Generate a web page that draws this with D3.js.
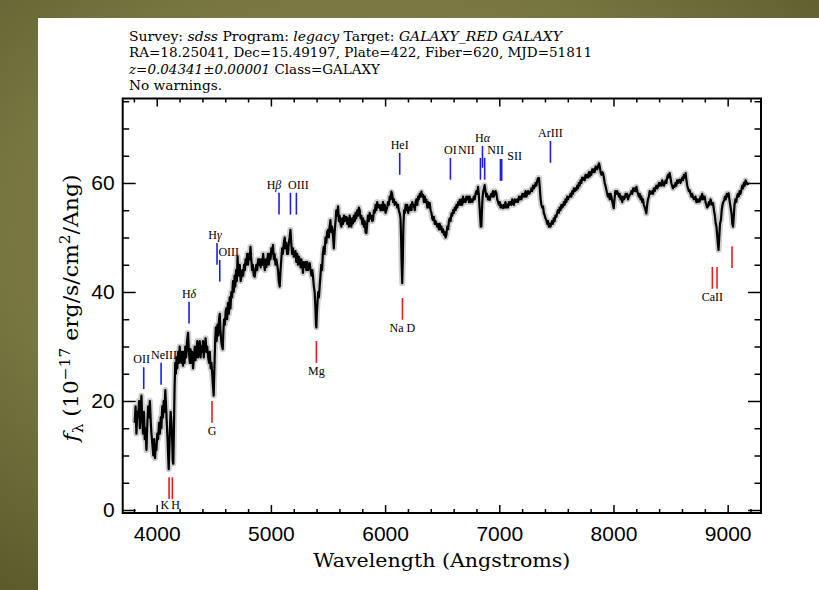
<!DOCTYPE html>
<html><head><meta charset="utf-8">
<script src="https://cdn.jsdelivr.net/npm/d3@7/dist/d3.min.js"></script>
<style>body{margin:0;background:#fff}svg{display:block}</style>
</head><body><div id="chart"></div>
<script>
// ---------------- DATA ----------------
const xTicksMajor = [4000, 5000, 6000, 7000, 8000, 9000];
const yTicksMajor = [0, 20, 40, 60];
const xDomain = [3702, 9292];
const yDomain = [-0.55, 75.5];

// observed spectrum [wavelength (A), flux (1e-17 erg/s/cm2/A)]
const spectrum = [
[3807,16],[3815,19],[3822,14],[3830,18],[3838,17],[3845,20],[3852,15],[3860,19],[3866,21],[3872,17],
[3880,14],[3888,18],[3895,13],[3902,15],[3910,11],[3918,16],[3925,19],[3932,17],[3940,20],[3948,16],
[3954,14],[3962,12],[3970,10],[3978,13],[3985,9.5],[3992,12],[3997,11],[4005,14],[4012,13],[4020,16],
[4028,14],[4035,17],[4041,15],[4048,19],[4055,17],[4061,20],[4068,18],[4075,22],[4082,19],[4088,16],
[4095,13],[4100,10],[4105,7.5],[4110,11],[4116,15],[4122,18],[4129,16],[4135,13],[4140,9],[4145,8.5],
[4150,14],[4156,22],[4162,27],[4168,25],[4173,28],[4180,26],[4187,29],[4194,27],[4201,30],[4208,28],
[4215,27],[4222,29],[4230,26.5],[4237,29],[4244,27],[4250,30],[4258,28],[4266,31],[4274,32.5],[4282,29],
[4290,27],[4296,29.5],[4303,27],[4310,29],[4318,26],[4326,28],[4333,30],[4340,27.5],[4348,29],[4355,31],
[4362,28],[4370,30],[4377,31],[4384,28],[4391,30],[4398,29],[4405,31],[4412,28],[4420,30],[4428,31.5],
[4435,29],[4442,30],[4450,28],[4458,27],[4465,29],[4472,26],[4479,27],[4486,25],[4492,23],[4499,21],
[4505,26],[4512,31],[4518,33.5],[4525,31],[4532,34],[4539,32],[4546,35],[4552,36],[4558,33],[4565,31],
[4572,30],[4578,29.5],[4584,33],[4590,35],[4597,34],[4604,36.5],[4610,37],[4617,35],[4624,38],[4632,36],
[4639,39],[4646,37],[4653,40],[4660,39],[4668,42],[4675,40],[4682,43],[4688,41],[4695,44],[4702,42],
[4708,46.5],[4714,44],[4720,43],[4727,45],[4735,42],[4742,42.8],[4750,44],[4757,43],[4765,45],[4772,44],
[4778,46],[4785,45],[4792,47],[4800,45],[4807,47],[4814,46],[4821,48.3],[4828,46],[4835,44],[4842,45],
[4850,43],[4858,42.8],[4865,44],[4872,45],[4880,44],[4888,46],[4895,45],[4902,46],[4910,44.5],[4918,46],
[4925,45],[4932,47],[4940,45],[4947,44],[4954,46],[4961,44.6],[4968,46],[4975,47],[4982,45],[4990,47],
[4997,46],[5004,48],[5011,47],[5018,48.6],[5025,46],[5032,47],[5040,45],[5048,46],[5055,45],[5062,44],
[5069,42],[5077,41],[5084,44],[5091,46],[5098,48],[5105,47],[5113,49],[5121,50],[5128,48],[5135,49],
[5142,47],[5150,47],[5157,49],[5164,50],[5171,51.4],[5178,49],[5185,47],[5193,48],[5200,46.5],[5208,46.5],
[5215,47.5],[5222,45.5],[5230,47],[5237,45],[5245,46.5],[5252,45.9],[5260,44.5],[5267,46],[5274,45],[5281,43.5],
[5288,45.5],[5296,44.6],[5303,45.5],[5310,44],[5318,45.5],[5325,44],[5332,45],[5340,45.3],[5347,44],[5355,43],
[5362,44],[5369,42.8],[5376,41],[5383,40],[5390,37],[5395,34],[5398,33.5],[5402,36],[5408,38],[5414,40],
[5420,39],[5427,41],[5434,43],[5441,45],[5448,44],[5455,47],[5462,48.3],[5470,47],[5478,50],[5485,49],
[5492,51],[5500,51.4],[5507,50],[5514,52],[5521,53.2],[5528,51],[5536,52],[5544,50.1],[5551,48],[5558,51],
[5566,53],[5573,55],[5580,54],[5588,55.7],[5595,53],[5602,54],[5610,52.5],[5617,52],[5625,53.5],[5632,52.5],
[5640,54],[5647,53],[5654,53.8],[5661,53.8],[5668,52.5],[5676,53.5],[5683,52],[5690,54],[5697,53],[5704,52],
[5712,53.5],[5719,52.6],[5726,54],[5734,53],[5741,54.5],[5748,53.5],[5756,55],[5763,54],[5770,55.5],[5778,55],
[5785,53.5],[5792,54],[5800,52.5],[5807,53.5],[5814,52],[5821,53],[5829,51],[5836,50.8],[5843,52.5],[5850,54],
[5858,53],[5865,54.5],[5872,53.5],[5880,54],[5887,53],[5894,53.2],[5902,55],[5909,54.5],[5916,56],[5924,55],
[5931,56.5],[5938,55.5],[5945,56],[5953,55.7],[5960,55],[5967,56],[5975,55],[5982,56.5],[5990,55],[5997,56],
[6004,54.5],[6011,55],[6018,55.5],[6025,56.5],[6033,56],[6040,57.5],[6047,57],[6055,58.4],[6062,58],[6070,56.5],
[6077,57],[6084,56],[6091,56.5],[6099,56.3],[6106,55.5],[6113,56],[6120,55],[6128,54.4],[6135,53.5],[6140,50],
[6145,45],[6150,41.6],[6155,46],[6160,52],[6166,55],[6173,54.5],[6180,56],[6187,55],[6194,56],[6202,54.5],
[6209,55.5],[6216,55],[6224,56],[6231,55],[6238,56.5],[6245,55.7],[6252,56],[6260,55],[6267,56.5],[6274,57],
[6282,56],[6289,57.5],[6296,57],[6303,58],[6311,57.5],[6318,58.4],[6325,57.5],[6333,57.8],[6340,56.5],[6348,57.5],
[6355,56.5],[6362,56.9],[6370,55.5],[6377,56.5],[6384,55.5],[6391,56.3],[6398,55],[6406,54.5],[6413,53.5],[6420,53.2],
[6427,53.8],[6435,52.5],[6442,53],[6449,52.5],[6456,52],[6464,52.5],[6471,51.5],[6478,52.5],[6486,51.5],[6493,52],
[6500,51],[6508,51.5],[6515,50.5],[6522,51],[6530,50],[6537,50.5],[6544,52],[6552,51.5],[6559,53],[6566,53.5],
[6574,53],[6581,54.4],[6588,54],[6596,55],[6603,54.5],[6610,55.5],[6618,55],[6625,56],[6632,55.5],[6640,56.5],
[6647,56],[6653,56.9],[6661,56],[6668,57],[6675,56],[6683,57.5],[6690,56.5],[6697,57],[6705,56.5],[6712,57.5],
[6720,57],[6727,57.5],[6734,56.5],[6741,57.5],[6748,56.5],[6756,57],[6763,56.5],[6770,56.9],[6777,57.5],[6785,57],
[6792,58],[6800,58.5],[6807,58],[6814,59.3],[6820,58],[6826,56],[6832,54],[6838,52],[6843,52],[6848,55],
[6854,57.5],[6860,58.5],[6866,59],[6872,59.6],[6879,58.5],[6886,57.5],[6893,58],[6901,57],[6908,57.5],[6916,56.9],
[6923,57.5],[6930,58],[6938,57.5],[6945,58.5],[6952,57.5],[6960,58],[6967,58.5],[6975,58.1],[6982,57],[6989,56.5],
[6996,56],[7004,56.5],[7011,55.5],[7018,56],[7025,55.5],[7033,55.4],[7040,56],[7047,55.5],[7054,56.5],[7062,55.5],
[7069,56],[7076,55.5],[7084,56.5],[7091,56],[7098,56.5],[7106,56],[7113,57],[7120,56.5],[7128,56],[7135,57],
[7142,56.5],[7150,56.6],[7157,57],[7164,56.5],[7172,57.5],[7179,57],[7186,57.5],[7194,57],[7201,58],[7208,57.5],
[7215,58],[7223,57.5],[7230,58.5],[7237,57.5],[7245,58],[7252,58.5],[7259,58],[7266,58.1],[7274,58.5],[7281,59],
[7288,58.5],[7296,59.5],[7303,59],[7310,59.3],[7318,60],[7325,59.5],[7333,60.5],[7340,60.9],[7348,60.9],[7355,59],
[7362,57],[7369,56],[7376,55.5],[7383,55.7],[7390,54.5],[7398,54],[7405,53.5],[7412,53.2],[7420,52.5],[7427,53],
[7434,52],[7441,52.5],[7448,52],[7455,52.5],[7462,53],[7470,52.5],[7477,53.5],[7485,53],[7492,54],[7500,53.8],
[7507,54.5],[7514,55],[7522,54.5],[7529,55.5],[7536,55],[7544,56],[7551,55.5],[7558,55.7],[7566,56.5],[7573,56],
[7580,57],[7588,56.5],[7595,57.5],[7602,57],[7610,57.5],[7617,57.5],[7624,58],[7631,57.5],[7639,58.5],[7646,58],
[7653,59],[7661,58.5],[7668,59],[7675,58.7],[7683,59.5],[7690,59],[7697,60],[7704,59.5],[7712,60.5],[7719,60],
[7726,61],[7733,60.6],[7741,61],[7748,60.5],[7755,61.5],[7763,61],[7770,61.5],[7777,61],[7785,62],[7792,61.2],
[7799,62],[7806,61.5],[7814,62.5],[7821,62],[7828,62.5],[7836,62],[7843,63],[7850,63],[7858,62.5],[7866,63.2],
[7873,63.6],[7880,63],[7887,62],[7894,61.5],[7901,62],[7908,61.8],[7916,61],[7923,60],[7930,59.5],[7938,58.7],
[7945,58],[7952,57.5],[7960,58],[7967,57],[7975,58],[7982,57.5],[7990,56.5],[7996,56],[8002,55.4],[8009,57],
[8016,58.5],[8024,58],[8032,58.5],[8040,58.1],[8047,57.5],[8055,58],[8062,57],[8070,57.5],[8077,56.5],[8084,57.5],
[8091,57],[8098,57.2],[8106,58],[8113,57.5],[8120,58],[8127,57],[8135,57.5],[8142,57.8],[8150,58],[8157,58.5],
[8164,58],[8172,59],[8179,58.5],[8186,59],[8194,58.5],[8201,59.3],[8208,58.5],[8215,58],[8222,57.5],[8230,58],
[8237,57],[8244,57.5],[8252,56.5],[8259,57],[8266,56],[8274,55.5],[8281,55],[8288,54.4],[8295,56],[8302,57],
[8310,57.5],[8317,58.5],[8324,58],[8332,58.1],[8339,58.5],[8346,58],[8354,59],[8361,58.5],[8368,59],[8376,59.5],
[8383,59],[8390,59.3],[8398,60],[8405,59.5],[8412,60],[8420,59.5],[8427,60.5],[8434,60],[8441,59.5],[8449,59.9],
[8456,60.5],[8463,60],[8470,61],[8478,61.5],[8485,61],[8492,61.8],[8499,61],[8507,60],[8514,59.5],[8521,59],
[8529,59.5],[8536,59.3],[8543,60],[8551,59.5],[8558,60.5],[8565,60],[8572,60.5],[8580,60.6],[8587,60],[8594,60.5],
[8602,61],[8609,60.5],[8617,61.5],[8624,61],[8632,61.8],[8639,60.5],[8646,59.5],[8653,59],[8660,58.5],[8667,58.7],
[8675,58],[8682,57.5],[8689,58],[8696,57.5],[8704,57],[8711,57.2],[8718,57.5],[8726,56.5],[8733,57],[8740,56.5],
[8748,57],[8755,56.6],[8762,57.5],[8770,57],[8777,58],[8784,57],[8792,57.5],[8799,57.5],[8806,56.5],[8813,56],
[8820,55.5],[8828,55.7],[8835,56.5],[8842,56],[8850,57],[8857,56.5],[8864,56],[8872,56.3],[8880,55],[8888,54],
[8895,52.6],[8902,52],[8908,50.5],[8914,49],[8920,47.7],[8926,50],[8933,52.5],[8941,53.2],[8948,55],[8955,56],
[8962,56.5],[8970,56.9],[8977,57.5],[8984,57],[8992,58],[9000,57.5],[9008,58.1],[9015,57],[9022,56],[9030,55],
[9036,54],[9041,52.5],[9047,52],[9054,54],[9060,56],[9068,57],[9075,56.5],[9082,57.5],[9090,58],[9097,57.5],
[9105,58.5],[9112,58],[9120,58.7],[9128,59.5],[9135,59],[9142,60],[9150,59.5],[9157,60.5],[9164,59.9],[9171,60],
[9178,59.6]
];

// emission line markers (blue, above spectrum)
const emisWave  = [3886, 4038, 4283, 4528, 4552, 5071, 5171, 5223, 6128, 6572, 6835, 6853, 6872, 7010, 7021, 7448];
const emisLabel = ["OII","NeIII","Hδ","Hγ","OIII","Hβ","","OIII","HeI","OI","NII","Hα","NII","","SII","ArIII"];
const emisTop   = [26.2, 27.0, 38.2, 49.0, 45.9, 58.2, 58.2, 58.2, 65.5, 64.6, 64.6, 66.8, 64.6, 64.4, 64.4, 67.7];
// absorption line markers (red, below spectrum)
const absWave  = [4108, 4137, 4484, 5398, 6152, 8866, 8907, 9038];
const absLabel = ["K","H","G","Mg","Na D","CaII","",""];
const absBottom= [2.0, 2.0, 16.0, 27.0, 34.9, 40.6, 40.6, 44.4];

const headerLines = [
  [["Survey: ",0],["sdss",1],[" Program: ",0],["legacy",1],[" Target: ",0],["GALAXY_RED GALAXY",1]],
  [["RA=18.25041, Dec=15.49197, Plate=422, Fiber=620, MJD=51811",0]],
  [["z=0.04341±0.00001",1],[" Class=GALAXY",0]],
  [["No warnings.",0]]
];

// ---------------- LAYOUT ----------------
const W = 819, H = 590;
const P = {l:122.7, r:761, t:98.5, b:513};
const markLen = 4; // flux units
const emisDx = {0:-2, 1:3, 3:-2, 4:9, 5:-5, 7:2, 10:-14, 12:11, 14:13};
const emisDy = {14:5};
const absDx  = {0:-4.3, 1:3.3};

const svg = d3.select("#chart").append("svg").attr("width", W).attr("height", H);
const defs = svg.append("defs");
const rg = defs.append("radialGradient").attr("id","bg").attr("cx","45%").attr("cy","40%").attr("r","75%");
rg.append("stop").attr("offset","0%").attr("stop-color","#8d8a50");
rg.append("stop").attr("offset","60%").attr("stop-color","#777540");
rg.append("stop").attr("offset","100%").attr("stop-color","#5a5a2c");
svg.append("rect").attr("width",W).attr("height",H).attr("fill","url(#bg)");
svg.append("rect").attr("x",38).attr("y",18).attr("width",W-38).attr("height",H-18).attr("fill","#fff");

defs.append("clipPath").attr("id","clip").append("rect")
  .attr("x",P.l).attr("y",P.t).attr("width",P.r-P.l).attr("height",P.b-P.t);

const x = d3.scaleLinear().domain(xDomain).range([P.l, P.r]);
const y = d3.scaleLinear().domain(yDomain).range([P.b, P.t]);

// header
const hdr = svg.append("g").attr("font-family","'DejaVu Serif', serif").attr("font-size",12.5).attr("fill","#000");
const hdrLen = [433, 463, 251, 93];
headerLines.forEach((parts,i)=>{
  const t = hdr.append("text").attr("x",129).attr("y",41+i*16.4)
    .attr("textLength",hdrLen[i]).attr("lengthAdjust","spacingAndGlyphs");
  parts.forEach(p=>t.append("tspan").attr("font-style",p[1]?"italic":"normal").text(p[0]));
});

// spectrum
const line = d3.line().x(d=>x(d[0])).y(d=>y(d[1]));
const gs = svg.append("g").attr("clip-path","url(#clip)");
gs.append("path").datum(spectrum).attr("d",line).attr("fill","none")
  .attr("stroke","#cdcdcd").attr("stroke-width",6).attr("stroke-linejoin","round");
gs.append("path").datum(spectrum).attr("d",line).attr("fill","none")
  .attr("stroke","#000").attr("stroke-width",2.2).attr("stroke-linejoin","round");

// line markers
const lab = svg.append("g").attr("font-family","'Liberation Serif', serif").attr("font-size",12).attr("text-anchor","middle");
function addLabel(xp, yp, s){
  const t = lab.append("text").attr("x",xp).attr("y",yp);
  const m = s.match(/^H([αβγδ])$/);
  if(m){ t.append("tspan").text("H"); t.append("tspan").attr("font-style","italic").text(m[1]); }
  else t.text(s);
}
emisWave.forEach((w,i)=>{
  svg.append("line").attr("x1",x(w)).attr("x2",x(w)).attr("y1",y(emisTop[i])).attr("y2",y(emisTop[i]-markLen))
    .attr("stroke","#1e1ee6").attr("stroke-width",1.6);
  if(emisLabel[i]) addLabel(x(w)+(emisDx[i]||0), y(emisTop[i])-4+(emisDy[i]||0), emisLabel[i]);
});
absWave.forEach((w,i)=>{
  svg.append("line").attr("x1",x(w)).attr("x2",x(w)).attr("y1",y(absBottom[i])).attr("y2",y(absBottom[i]+markLen))
    .attr("stroke","#f01c1c").attr("stroke-width",1.6);
  if(absLabel[i]) addLabel(x(w)+(absDx[i]||0), y(absBottom[i])+(i<2?10:12), absLabel[i]);
});

// axes with inward ticks on all sides
const xMinor = d3.range(3800, 9292, 200).filter(v=>v%1000!==0);
const yMinor = d3.range(5, 76, 5).filter(v=>v%20!==0);
const axG = svg.append("g");
function ax(gen, tr, vals, size, pad, labels){
  const g = axG.append("g").attr("transform",tr)
    .call(gen.tickValues(vals).tickSizeInner(size).tickSizeOuter(0).tickPadding(pad)
      .tickFormat(labels? d3.format("d") : ""));
  g.attr("font-family","'Liberation Sans', Arial, sans-serif").attr("font-size",21);
  g.select(".domain").remove();
  g.selectAll(".tick line").attr("stroke","#000").attr("stroke-width",1.5);
  g.selectAll("text").attr("fill","#000");
  return g;
}
ax(d3.axisBottom(x), `translate(0,${P.b})`, xTicksMajor, -8, 13, true);
ax(d3.axisBottom(x), `translate(0,${P.b})`, xMinor, -4, 0, false);
ax(d3.axisTop(x), `translate(0,${P.t})`, xTicksMajor, -8, 0, false);
ax(d3.axisTop(x), `translate(0,${P.t})`, xMinor, -4, 0, false);
ax(d3.axisLeft(y), `translate(${P.l},0)`, yTicksMajor, -13, 8, true);
ax(d3.axisLeft(y), `translate(${P.l},0)`, yMinor, -6.5, 0, false);
ax(d3.axisRight(y), `translate(${P.r},0)`, yTicksMajor, -13, 0, false);
ax(d3.axisRight(y), `translate(${P.r},0)`, yMinor, -6.5, 0, false);
svg.append("rect").attr("x",P.l).attr("y",P.t).attr("width",P.r-P.l).attr("height",P.b-P.t)
  .attr("fill","none").attr("stroke","#000").attr("stroke-width",2);

// axis titles
svg.append("text").attr("x",(P.l+P.r)/2).attr("y",567).attr("text-anchor","middle")
  .attr("font-family","'DejaVu Serif', serif").attr("font-size",19)
  .attr("textLength",257).attr("lengthAdjust","spacingAndGlyphs").text("Wavelength (Angstroms)");
const yt = svg.append("text").attr("transform","translate(78,308) rotate(-90)").attr("text-anchor","middle")
  .attr("font-family","'DejaVu Serif', serif").attr("font-size",20)
  .attr("textLength",267).attr("lengthAdjust","spacingAndGlyphs");
yt.append("tspan").attr("font-style","italic").text("f");
yt.append("tspan").attr("font-size",14).attr("dy",5).text("λ");
yt.append("tspan").attr("dy",-5).text(" (10");
yt.append("tspan").attr("font-size",14).attr("dy",-8).text("−17");
yt.append("tspan").attr("dy",8).text(" erg/s/cm");
yt.append("tspan").attr("font-size",14).attr("dy",-8).text("2");
yt.append("tspan").attr("dy",8).text("/Ang)");
</script></body></html>
